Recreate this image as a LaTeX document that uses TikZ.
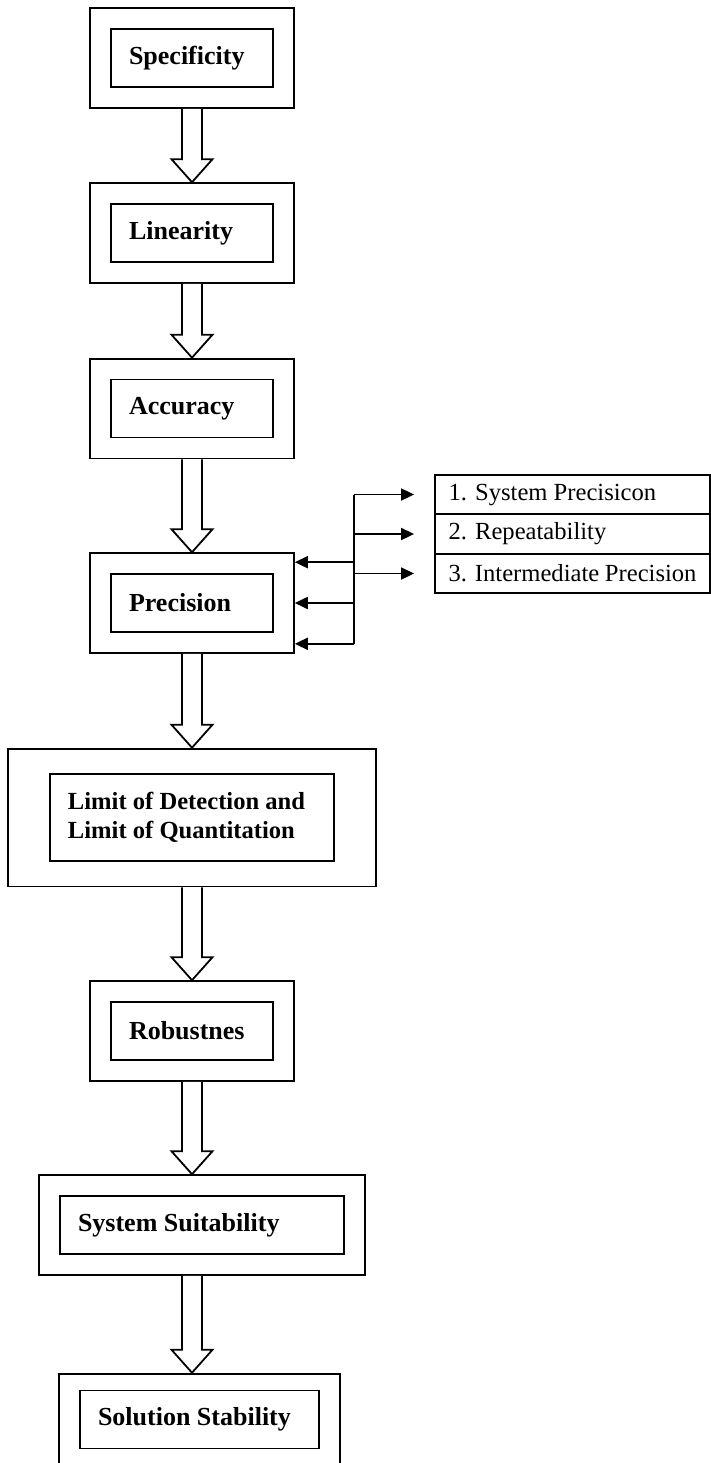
\documentclass[tikz,border=0pt]{standalone}
\usepackage{fontspec}
\setmainfont{Liberation Serif}
\usetikzlibrary{fit,calc,arrows.meta}

\newcommand\blockdown[2]{%
\draw[fill=white] ($(#1.south -| axis)+(-10,0)$) -- ($(#2.north -| axis)+(-10,-23)$) -- ($(#2.north -| axis)+(-20.5,-23)$) -- (#2.north -| axis) -- ($(#2.north -| axis)+(20.5,-23)$) -- ($(#2.north -| axis)+(10,-23)$) -- ($(#1.south -| axis)+(10,0)$);}

\begin{document}
\begin{tikzpicture}[x=0.5pt,y=-0.5pt,line width=0.9pt,
  inbox/.style={draw,inner xsep=9pt,inner ysep=0pt,align=flush left,text width=#1,minimum height=29pt,font=\bfseries\fontsize{13}{15}\selectfont},
  inbox/.default=63pt,
  outbox/.style={draw,inner xsep=10pt,inner ysep=10pt},
  subbox/.style={draw,inner xsep=6.75pt,inner ysep=0pt,align=flush left,text width=124pt,minimum height=19.75pt,font=\fontsize{12.3}{14}\selectfont},
  tip/.style={-{Triangle[length=6.5pt,width=6pt]}}]

\useasboundingbox (0,0) rectangle (711,1463);
\coordinate (axis) at (192,0);
\coordinate (bus) at (354,0);

\node[inbox] (specI) at (192,58) {Specificity};
\node[outbox,fit=(specI)] (specO) {};
\node[inbox] (linI) at (192,233) {Linearity};
\node[outbox,fit=(linI)] (linO) {};
\node[inbox] (accI) at (192,408.5) {Accuracy};
\node[outbox,fit=(accI)] (accO) {};
\node[inbox] (precI) at (192,603) {Precision};
\node[outbox,fit=(precI)] (precO) {};
\node[inbox=124pt,minimum height=43.5pt,font=\bfseries\fontsize{12.3}{14.5}\selectfont] (lodI) at (192,817.5) {Limit of Detection and\\Limit of Quantitation};
\node[outbox,inner xsep=20.5pt,inner ysep=12.25pt,fit=(lodI)] (lodO) {};
\node[inbox] (robI) at (192,1031) {Robustnes};
\node[outbox,fit=(robI)] (robO) {};
\node[inbox=124pt] (sysI) at (202,1225) {System Suitability};
\node[outbox,fit=(sysI)] (sysO) {};
\node[inbox=101.5pt] (solI) at (199.5,1419.5) {Solution Stability};
\node[outbox,inner ysep=8pt,fit=(solI)] (solO) {};

\node[subbox] (row1) at (572.5,494.5) {1. System Precisicon};
\node[subbox] (row2) at (572.5,534) {2. Repeatability};
\node[subbox] (row3) at (572.5,573.5) {3. Intermediate Precision};

\blockdown{specO}{linO}
\blockdown{linO}{accO}
\blockdown{accO}{precO}
\blockdown{precO}{lodO}
\blockdown{lodO}{robO}
\blockdown{robO}{sysO}
\blockdown{sysO}{solO}

\coordinate (pin1) at ([yshift=-5pt]precO.north east);
\coordinate (pin3) at ([yshift=5pt]precO.south east);
\draw (row1.west -| bus) -- (pin3 -| bus);
\foreach \r in {row1,row2,row3}
  \draw[tip,shorten >=10pt] (\r.west -| bus) -- (\r.west);
\foreach \p in {pin1,precO.east,pin3}
  \draw[tip] (\p -| bus) -- (\p);
\end{tikzpicture}
\end{document}
